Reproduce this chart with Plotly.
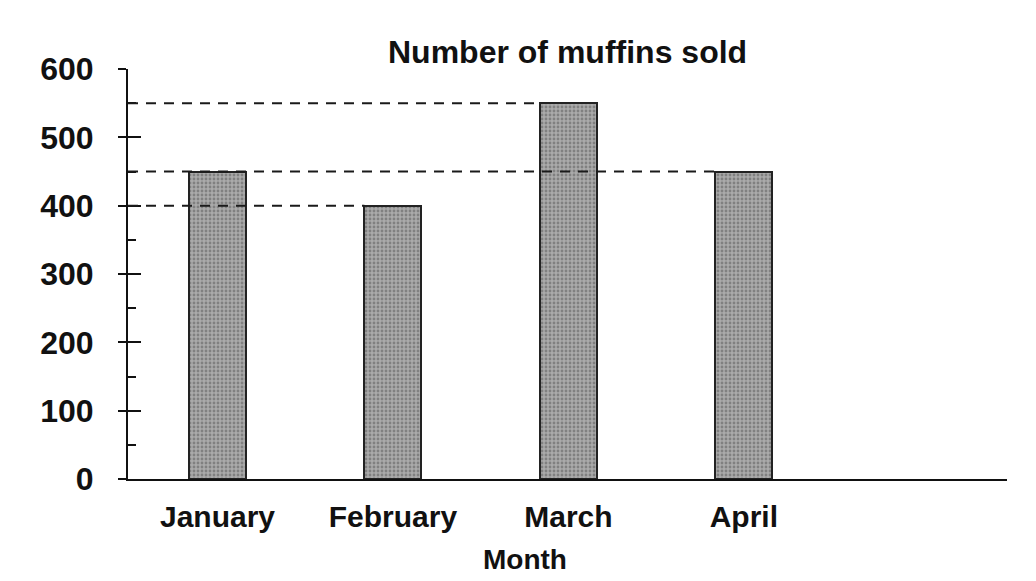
import plotly.graph_objects as go

months = ["January", "February", "March", "April"]
muffins = [450, 400, 550, 450]
y_ticks = [0, 100, 200, 300, 400, 500, 600]
guide_values = [550, 450, 400]
guide_targets = ["March", "April", "February"]
title_text = "Number of muffins sold"
x_title = "Month"

FONT = "Liberation Sans, Arial, sans-serif"
BAR_W = 0.325
X_RANGE = [-0.51, 4.5]

fig = go.Figure()
fig.add_trace(go.Bar(
    x=months, y=muffins, width=BAR_W,
    marker=dict(color="#a8a8a8",
                line=dict(color="#222", width=2),
                pattern=dict(shape=".", fgcolor="#555", bgcolor="#aaaaaa",
                             size=4, solidity=0.4)),
    hoverinfo="skip", showlegend=False,
))
# invisible trace so the overlay axis (inside ticks) is drawn
fig.add_trace(go.Scatter(x=months, y=muffins, yaxis="y2", mode="markers",
                         marker=dict(opacity=0), hoverinfo="skip", showlegend=False))

for v, t in zip(guide_values, guide_targets):
    idx = months.index(t)
    fig.add_shape(type="line", xref="x", yref="y", x0=X_RANGE[0], x1=idx - BAR_W / 2,
                  y0=v, y1=v, layer="above",
                  line=dict(color="#1a1a1a", width=2, dash="10px,8px"))

fig.add_annotation(text=title_text, xref="paper", yref="paper", x=0.5, y=1.042,
                   xanchor="center", yanchor="middle", showarrow=False,
                   font=dict(family=FONT, size=32, color="#111", weight="bold"))
fig.add_annotation(text=x_title, xref="paper", yref="paper", x=0.452, y=-0.24,
                   xanchor="center", yanchor="bottom", showarrow=False,
                   font=dict(family=FONT, size=28, color="#111", weight="bold"))

fig.update_layout(
    width=1036, height=581,
    margin=dict(l=120, r=37, t=61, b=110),
    paper_bgcolor="white", plot_bgcolor="white",
    bargap=0,
    xaxis=dict(range=X_RANGE, showgrid=False, zeroline=False, showline=True,
               linecolor="#111", linewidth=2, ticks="", ticklabelstandoff=10,
               tickfont=dict(family=FONT, size=30, color="#111", weight="bold")),
    yaxis=dict(range=[0, 600], tickvals=y_ticks, showgrid=False, zeroline=False,
               showline=True, linecolor="#111", linewidth=2,
               ticks="outside", ticklen=8, tickwidth=2, tickcolor="#111",
               ticklabelstandoff=18,
               tickfont=dict(family=FONT, size=32, color="#111", weight="bold")),
    yaxis2=dict(range=[0, 600], tickvals=y_ticks, overlaying="y", side="left",
                anchor="x", showgrid=False, zeroline=False, showline=False,
                ticks="inside", ticklen=13, tickwidth=2, tickcolor="#111",
                showticklabels=False,
                minor=dict(ticks="inside", dtick=50, ticklen=8, tickwidth=1.5,
                           tickcolor="#111")),
)

fig.write_html("out.html")
